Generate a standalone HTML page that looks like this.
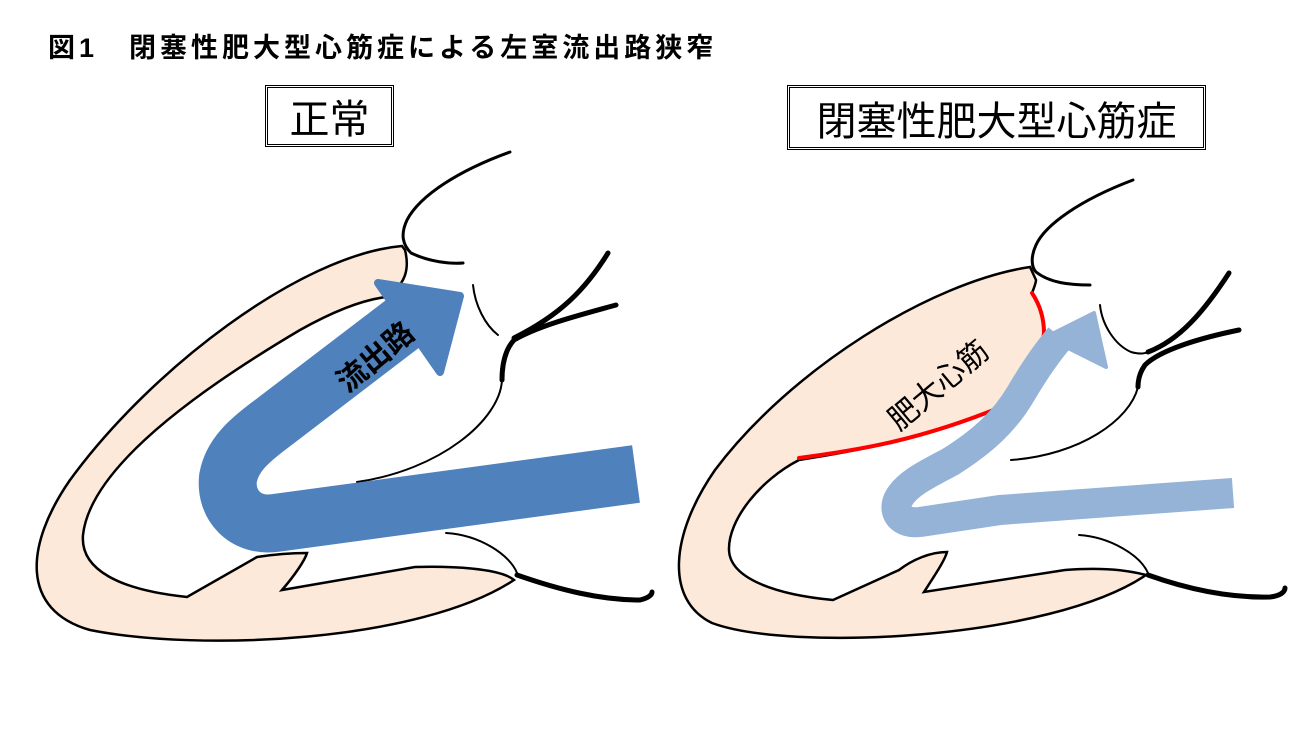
<!DOCTYPE html>
<html><head><meta charset="utf-8"><style>
body{margin:0;width:1299px;height:731px;background:#fff;overflow:hidden;position:relative;font-family:"Liberation Sans","Noto Sans CJK JP",sans-serif}
.t{position:absolute;left:48px;top:26px;font-size:27px;font-weight:bold;color:#000;white-space:nowrap;letter-spacing:4px}
.box{position:absolute;border:3px double #000;box-sizing:border-box;font-size:40px;display:flex;align-items:center;justify-content:center;white-space:nowrap}
svg{position:absolute;left:0;top:0}
</style></head><body>
<div class="t">図1　閉塞性肥大型心筋症による左室流出路狭窄</div>
<div class="box" style="left:265px;top:85px;width:129px;height:62px">正常</div>
<div class="box" style="left:787px;top:85px;width:419px;height:65px">閉塞性肥大型心筋症</div>
<svg width="1299" height="731" viewBox="0 0 1299 731">
<g fill="none" stroke="#000" stroke-linecap="round">
<!-- LEFT -->
<path d="M402,246 C300,255 150,370 70,480 C25,545 20,610 90,630 C200,652 420,642 514,580 C500,568 450,566 415,567 L282,590 C295,575 305,560 307,553 C290,553 270,555 257,557 L187,597 C120,590 80,570 83,535 C90,470 190,395 300,330 C350,302 378,298 386,297 C405,285 410,270 405,250 Z" fill="#FCE9DA" stroke-width="2.5"/>
<path d="M510,152 C460,170 420,195 407,220 C400,235 403,245 411,253 C430,262 450,264 463,263" stroke-width="3"/>
<path d="M473,285 C475,305 485,325 498,335" stroke-width="2"/>
<path d="M608,253 C585,290 560,315 514,338" stroke-width="5"/>
<path d="M616,305 C580,315 540,325 514,340 C505,350 502,365 502,380" stroke-width="5"/>
<path d="M502,380 C500,420 440,470 357,482" stroke-width="2"/>
<path d="M446,533 C480,535 510,555 517,573" stroke-width="2"/>
<path d="M517,575 C560,590 600,600 640,600 C648,598 652,595 652,592" stroke-width="5"/>
<path d="M636,474 L275,523 C245,527 225,505 228,478 C232,455 250,440 270,425 L405,322" stroke="#4F81BD" stroke-width="58" stroke-linecap="butt" stroke-linejoin="round"/>
<polygon points="378,283 460,296 440,372" fill="#4F81BD" stroke="#4F81BD" stroke-width="8" stroke-linejoin="round"/>
<!-- RIGHT -->
<path d="M1030,267 C930,282 790,370 715,470 C670,535 665,600 712,623 C790,652 1050,640 1146,575 C1120,568 1090,568 1065,570 L924,592 C935,575 945,560 947,552 C930,552 912,560 899,570 L833,600 C780,595 730,580 729,550 C728,520 760,480 799,460 C860,450 920,440 1001,407 C1025,388 1040,365 1044,333 C1044,318 1040,305 1032,293 C1034,288 1036,283 1036,280 Z" fill="#FCE9DA" stroke-width="2.5"/>
<path d="M799,458 C860,450 920,440 1001,407 C1025,388 1040,365 1044,333 C1044,318 1040,305 1032,293" stroke="#f00" stroke-width="4"/>
<path d="M1133,180 C1080,200 1045,225 1036,245 C1030,258 1032,268 1036,272 C1050,283 1070,285 1090,285" stroke-width="3"/>
<path d="M1100,305 C1102,325 1115,345 1131,352 C1138,354 1144,354 1148,352" stroke-width="2"/>
<path d="M1229,273 C1205,310 1180,340 1148,352" stroke-width="5"/>
<path d="M1239,330 C1200,338 1160,350 1145,365 C1140,372 1138,380 1138,387" stroke-width="5"/>
<path d="M1138,387 C1130,420 1080,455 1011,460" stroke-width="2"/>
<path d="M1079,535 C1110,537 1140,555 1148,573" stroke-width="2"/>
<path d="M1148,575 C1190,590 1230,598 1270,597 C1280,596 1285,592 1285,588" stroke-width="5"/>
<path d="M1233,493 L1000,510 L920,522 C900,524 893,512 898,500 C905,485 925,475 950,462 C985,440 1005,420 1020,395 C1035,370 1045,355 1060,337" stroke="#95B3D7" stroke-width="30" stroke-linejoin="round" stroke-linecap="butt"/>
<polygon points="1046,337 1094,313 1106,367" fill="#95B3D7" stroke="#95B3D7" stroke-width="4" stroke-linejoin="round"/>
</g>
<text x="0" y="0" transform="translate(382,365) rotate(-40)" font-family="Liberation Sans,Noto Sans CJK JP,sans-serif" font-size="30" font-weight="bold" text-anchor="middle">流出路</text>
<text x="0" y="0" transform="translate(945,393) rotate(-40)" font-family="Liberation Sans,Noto Sans CJK JP,sans-serif" font-size="30" text-anchor="middle">肥大心筋</text>
</svg>
</body></html>
